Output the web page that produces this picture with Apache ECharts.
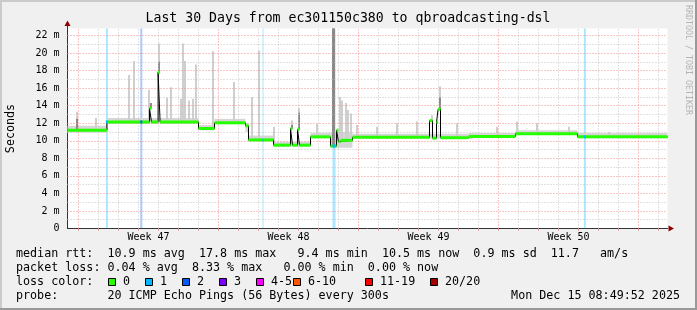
<!DOCTYPE html>
<html><head><meta charset="utf-8">
<script src="https://cdn.jsdelivr.net/npm/echarts@6/dist/echarts.min.js"></script>
<style>html,body{margin:0;padding:0;background:#f0f0f0}#c{width:697px;height:310px}</style>
</head><body><div id="c"></div>
<script>
// ---------- data (time in days since Mon Nov 17 00:00, values in ms) ----------
const titleText = 'Last 30 Days from ec301150c380 to qbroadcasting-dsl';
const yAxisTitle = 'Seconds';
const watermark = 'RRDTOOL / TOBI OETIKER';
const weekLabels = ['Week 47', 'Week 48', 'Week 49', 'Week 50'];
const weekLabelDays = [3.5, 10.5, 17.5, 24.5];
const dayGrid = [0,1,2,3,4,5,6,7,8,9,10,11,12,13,14,15,16,17,18,19,20,21,22,23,24,25,26,27,28,29];
const weekGrid = [0, 7, 14, 21, 28];
const yMajor = [2,4,6,8,10,12,14,16,18,20,22];
const yMinor = [1,3,5,7,9,11,13,15,17,19,21];

// median rtt steps: [start day, ms]
const medianSteps = [
  [-0.55, 11.2], [1.42, 12.15], [3.55, 13.7], [3.65, 12.15], [3.98, 17.8], [4.08, 12.15],
  [6.0, 11.4], [6.8, 12.05], [8.35, 11.7], [8.5, 10.1], [9.75, 9.5], [10.6, 11.4],
  [10.7, 9.5], [10.95, 11.3], [11.05, 9.5], [11.6, 10.45], [12.6, 9.4], [12.9, 11.2],
  [13.0, 9.9], [13.1, 10.05], [13.7, 10.4], [17.55, 12.3], [17.7, 10.3], [17.9, 12.1],
  [17.98, 13.6], [18.1, 10.35], [19.5, 10.5], [21.85, 10.8], [24.95, 10.45], [29.45, 10.45]
];
// smoke background band: [start day, low ms, high ms]
const smokeBand = [
  [-0.55, 10.95, 11.7], [1.42, 11.95, 12.6], [6.0, 11.2, 11.8], [6.8, 11.9, 12.5],
  [8.35, 11.0, 12.0], [8.5, 9.95, 10.6], [9.75, 9.35, 9.9], [11.6, 10.3, 10.9],
  [12.6, 9.2, 11.0], [13.7, 10.25, 10.8], [19.5, 10.35, 10.9], [21.85, 10.65, 11.2],
  [24.95, 10.3, 10.9], [29.45, 10.3, 10.9]
];
// smoke spikes: [day, top ms, dark-part top ms or null]
const smokeSpikes = [
  [-0.1, 13.3, 12.5], [0.85, 12.6, null], [2.5, 17.5, null], [2.75, 19.1, null],
  [3.5, 15.8, null], [3.6, 14.3, 14.3], [4.03, 21.1, 19.0], [4.4, 14.9, null],
  [4.63, 16.1, null], [5.13, 14.8, null], [5.23, 21.1, null], [5.3, 19.1, null],
  [5.5, 14.6, null], [5.7, 14.8, null], [5.88, 18.7, null], [6.72, 20.2, null],
  [7.75, 16.7, null], [8.69, 15.0, null], [9.02, 20.3, null], [9.77, 11.6, null],
  [10.65, 12.3, 11.8], [11.0, 13.7, 13.2], [11.9, 11.9, null], [12.72, 22.8, 22.8],
  [12.78, 22.8, 22.8], [13.05, 15.0, null], [13.19, 14.6, null], [13.35, 14.3, null],
  [13.49, 13.5, null], [13.64, 13.1, null], [13.94, 11.8, null], [14.9, 11.6, null],
  [15.9, 12.0, null], [16.9, 12.2, null], [17.65, 12.9, null], [18.05, 16.2, 15.0],
  [18.9, 12.0, null], [20.9, 11.6, null], [21.94, 12.2, null], [22.9, 12.0, null],
  [24.5, 11.6, null], [26.5, 11.0, null]
];
// packet loss events: [start day, end day, lost pings]
const lossEvents = [
  [1.37, 1.47, 1], [3.09, 3.19, 2], [9.2, 9.25, 1], [12.7, 12.85, 1], [25.27, 25.37, 1]
];
const lossLabels = ['0', '1', '2', '3', '4-5', '6-10', '11-19', '20/20'];
const lossColors = ['#26ff00', '#00b8ff', '#0059ff', '#7e00ff', '#ff00ff', '#ff5500', '#ff0000', '#a10000'];
const statLines = [
  'median rtt:  10.9 ms avg  17.8 ms max   9.4 ms min  10.5 ms now  0.9 ms sd  11.7   am/s',
  'packet loss: 0.04 % avg  8.33 % max   0.00 % min  0.00 % now',
  'loss color:',
  'probe:       20 ICMP Echo Pings (56 Bytes) every 300s'
];
const dateText = 'Mon Dec 15 08:49:52 2025';

// ---------- chart ----------
// axis runs in days since the start of the plotted window (0..30); the window starts 0.55 day before Monday 00:00
const START = -0.55, SPAN = 30, Y_MAX = 22.8;
const ax = t => t - START;
const mono = '"DejaVu Sans Mono", monospace';
const medianAt = t => { let v = medianSteps[0][1]; for (const s of medianSteps) { if (s[0] <= t) v = s[1]; } return v; };
const lossColorIdx = n => n <= 0 ? 0 : n === 1 ? 1 : n === 2 ? 2 : n === 3 ? 3 : n <= 5 ? 4 : n <= 10 ? 5 : n <= 19 ? 6 : 7;

const minorStyle = { color: '#c4c4c4', type: [1, 2], width: 1 };
const majorStyle = { color: '#f28a8a', type: [1, 2], width: 1 };
const gridMarks = [
  ...dayGrid.filter(d => !weekGrid.includes(d)).map(d => ({ xAxis: ax(d), lineStyle: minorStyle })),
  ...yMinor.map(v => ({ yAxis: v, lineStyle: minorStyle })),
  ...weekGrid.map(d => ({ xAxis: ax(d), lineStyle: majorStyle })),
  ...yMajor.map(v => ({ yAxis: v, lineStyle: majorStyle }))
];
const labelVals = weekLabelDays.map(ax);

const rectBetween = (api, t0, t1, v0, v1) => {
  const a = api.coord([t0, v1]), b = api.coord([t1, v0]);
  return { x: a[0], y: a[1], width: b[0] - a[0], height: b[1] - a[1] };
};

const boxX = [108, 145, 182, 219, 256, 293, 365, 430];
const lineY = [254, 268, 282, 296];

const graphics = [
  { type: 'rect', z: 100, shape: { x: 0, y: 0, width: 697, height: 2 }, style: { fill: '#cbcbcb' } },
  { type: 'rect', z: 100, shape: { x: 0, y: 0, width: 2, height: 310 }, style: { fill: '#cbcbcb' } },
  { type: 'rect', z: 100, shape: { x: 0, y: 308, width: 697, height: 2 }, style: { fill: '#999999' } },
  { type: 'rect', z: 100, shape: { x: 695, y: 0, width: 2, height: 310 }, style: { fill: '#999999' } },
  { type: 'text', z: 100, x: 348, y: 19, style: { text: titleText, font: '13.2px ' + mono, fill: '#000', align: 'center', verticalAlign: 'middle' } },
  { type: 'text', z: 100, x: 688, y: 5, rotation: -Math.PI / 2, style: { text: watermark, font: '8.3px ' + mono, fill: '#b4b4b4', align: 'left', verticalAlign: 'middle' } },
  { type: 'line', z: 100, shape: { x1: 67.5, y1: 28.5, x2: 67.5, y2: 24 }, style: { stroke: '#333', lineWidth: 1 } },
  { type: 'polygon', z: 101, shape: { points: [[64.5, 26], [70.5, 26], [67.5, 20.5]] }, style: { fill: '#8b0000' } },
  { type: 'polygon', z: 101, shape: { points: [[668.5, 225.5], [668.5, 231.5], [674, 228.5]] }, style: { fill: '#8b0000' } },
  { type: 'text', z: 100, x: 680, y: lineY[3], style: { text: dateText, font: '11.7px ' + mono, fill: '#000', align: 'right', verticalAlign: 'middle' } }
];
statLines.forEach((s, i) => graphics.push({ type: 'text', z: 100, x: 16, y: lineY[i], style: { text: s, font: '11.7px ' + mono, fill: '#000', align: 'left', verticalAlign: 'middle' } }));
lossLabels.forEach((l, i) => {
  graphics.push({ type: 'rect', z: 100, shape: { x: boxX[i] + 0.5, y: 278.5, width: 7, height: 7 }, style: { fill: lossColors[i], stroke: '#000', lineWidth: 1 } });
  graphics.push({ type: 'text', z: 100, x: boxX[i] + 15, y: lineY[2], style: { text: l, font: '11.7px ' + mono, fill: '#000', align: 'left', verticalAlign: 'middle' } });
});

const option = {
  animation: false,
  backgroundColor: '#f0f0f0',
  grid: { left: 67.5, top: 28.5, width: 600, height: 200, show: true, backgroundColor: '#ffffff', borderWidth: 0, containLabel: false, outerBoundsMode: 'none' },
  xAxis: {
    type: 'value', min: 0, max: SPAN,
    axisLine: { show: true, onZero: false, lineStyle: { color: '#333', width: 1 } },
    axisTick: { show: true, customValues: dayGrid.map(ax), length: 2, lineStyle: { color: '#e08080' } },
    axisLabel: { customValues: labelVals, formatter: v => weekLabels[labelVals.findIndex(u => Math.abs(u - v) < 1e-6)] || '', fontFamily: mono, fontSize: 10, color: '#000', margin: 4 },
    splitLine: { show: false }
  },
  yAxis: {
    type: 'value', min: 0, max: Y_MAX, interval: 2,
    name: yAxisTitle, nameLocation: 'middle', nameRotate: 90, nameGap: 51,
    nameTextStyle: { fontFamily: mono, fontSize: 11.7, color: '#000' },
    axisLine: { show: true, onZero: false, lineStyle: { color: '#333', width: 1 } },
    axisTick: { show: false },
    axisLabel: { showMaxLabel: false, formatter: v => v === 0 ? '0' : v + ' m', fontFamily: mono, fontSize: 10, color: '#000', margin: 8 },
    splitLine: { show: false }
  },
  series: [
    { // grid lines
      type: 'line', data: [], z: 1, silent: true,
      markLine: { symbol: ['none', 'none'], silent: true, animation: false, label: { show: false }, emphasis: { disabled: true }, data: gridMarks }
    },
    { // loss stripes
      type: 'custom', z: 2, silent: true,
      data: lossEvents.map(d => [ax(d[0]), ax(d[1]), d[2]]),
      encode: { x: [0, 1] },
      renderItem: (p, api) => ({ type: 'rect', shape: rectBetween(api, api.value(0), api.value(1), 0, Y_MAX), style: { fill: lossColors[lossColorIdx(api.value(2))], opacity: 0.33 } })
    },
    { // smoke band
      type: 'custom', z: 3, silent: true,
      data: smokeBand.map((d, i) => [ax(d[0]), ax((smokeBand[i + 1] || d)[0]), d[1], d[2]]),
      encode: { x: [0, 1], y: [2, 3] },
      renderItem: (p, api) => ({ type: 'rect', shape: rectBetween(api, api.value(0), api.value(1), api.value(2), api.value(3)), style: { fill: '#d6d6d6' } })
    },
    { // smoke spikes
      type: 'custom', z: 4, silent: true,
      data: smokeSpikes.map(d => [ax(d[0]), medianAt(d[0]), d[1], d[2] == null ? medianAt(d[0]) : d[2]]),
      encode: { x: 0, y: [1, 2] },
      renderItem: (p, api) => {
        const t = api.value(0), m = api.value(1), top = api.value(2), dk = api.value(3);
        const a = api.coord([t, top]), b = api.coord([t, m]), c = api.coord([t, dk]);
        const x = Math.round(a[0]) - 1;
        return { type: 'group', children: [
          { type: 'rect', shape: { x: x, y: a[1], width: 2, height: b[1] - a[1] }, style: { fill: '#cfcfcf' } },
          { type: 'rect', shape: { x: x, y: c[1], width: 2, height: b[1] - c[1] }, style: { fill: '#8a8a8a' } }
        ] };
      }
    },
    { // black median line
      type: 'line', z: 5, silent: true, step: 'end', showSymbol: false, data: medianSteps.map(d => [ax(d[0]), d[1]]),
      lineStyle: { color: '#000', width: 1 }
    },
    { // loss-coloured median band
      type: 'custom', z: 6, silent: true,
      data: medianSteps.slice(0, -1).map((d, i) => [ax(d[0]), ax(medianSteps[i + 1][0]), d[1]]),
      encode: { x: [0, 1], y: 2 },
      renderItem: (p, api) => {
        const a = api.coord([api.value(0), api.value(2)]), b = api.coord([api.value(1), api.value(2)]);
        return { type: 'rect', shape: { x: a[0], y: a[1] - 1.5, width: b[0] - a[0], height: 3 }, style: { fill: lossColors[0] } };
      }
    },
    { // loss markers on median
      type: 'custom', z: 7, silent: true,
      data: lossEvents.map(d => [ax(d[0]), ax(d[1]), d[2], medianAt((d[0] + d[1]) / 2)]),
      encode: { x: [0, 1], y: 3 },
      renderItem: (p, api) => {
        const a = api.coord([api.value(0), api.value(3)]), b = api.coord([api.value(1), api.value(3)]);
        return { type: 'rect', shape: { x: a[0], y: a[1] - 1.5, width: b[0] - a[0], height: 3 }, style: { fill: lossColors[lossColorIdx(api.value(2))] } };
      }
    }
  ],
  graphic: graphics
};
const chart = echarts.init(document.getElementById('c'), null, { renderer: 'canvas' });
chart.setOption(option);
</script></body></html>
